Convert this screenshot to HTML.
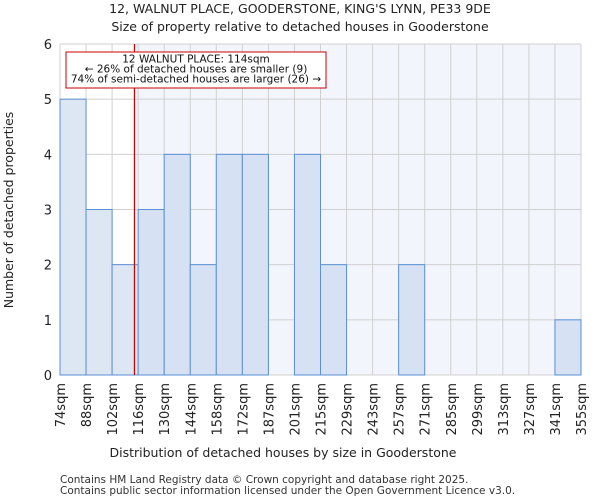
<!DOCTYPE html>
<html><head><meta charset="utf-8"><style>
body{margin:0;background:#fff;font-family:"DejaVu Sans","Liberation Sans",sans-serif}
svg text{font-family:"DejaVu Sans","Liberation Sans",sans-serif}
</style></head><body>
<svg id="c" width="600" height="500" xmlns="http://www.w3.org/2000/svg">
<text x="300" y="13" text-anchor="middle" font-size="12.5" fill="#222">12, WALNUT PLACE, GOODERSTONE, KING'S LYNN, PE33 9DE</text>
<text x="300" y="31" text-anchor="middle" font-size="12.5" fill="#222">Size of property relative to detached houses in Gooderstone</text>
<g id="plot"></g>
<text x="283" y="457" text-anchor="middle" font-size="12.5" fill="#222">Distribution of detached houses by size in Gooderstone</text>
<text transform="translate(13,210) rotate(-90)" text-anchor="middle" font-size="12.5" fill="#222">Number of detached properties</text>
<text x="60" y="483" font-size="10.5" fill="#333">Contains HM Land Registry data © Crown copyright and database right 2025.</text>
<text x="60" y="494" font-size="10.5" fill="#333">Contains public sector information licensed under the Open Government Licence v3.0.</text>
</svg>
<script>
const binLabels=["74sqm","88sqm","102sqm","116sqm","130sqm","144sqm","158sqm","172sqm","187sqm","201sqm","215sqm","229sqm","243sqm","257sqm","271sqm","285sqm","299sqm","313sqm","327sqm","341sqm","355sqm"];
const binStarts=[74,88,102,116,130,144,158,172,187,201,215,229,243,257,271,285,299,313,327,341,355];
const counts=[5,3,2,3,4,2,4,4,0,4,2,0,0,2,0,0,0,0,0,1];
const yTicks=[0,1,2,3,4,5,6];
const propertySize=114;
const NS="http://www.w3.org/2000/svg";
const X0=60,X1=581,Y0=375,Y1=44,YMAX=6;
const bw=(X1-X0)/counts.length;
function xIdx(i){return X0+i*bw;}
function xVal(v){for(let i=0;i<binStarts.length-1;i++){if(v>=binStarts[i]&&v<=binStarts[i+1])return xIdx(i)+(v-binStarts[i])/(binStarts[i+1]-binStarts[i])*bw;}return X1;}
function y(v){return Y0-v*(Y0-Y1)/YMAX;}
const g=document.getElementById('plot');
function mk(t,a){const e=document.createElementNS(NS,t);for(const k in a)e.setAttribute(k,a[k]);g.appendChild(e);return e;}
const lx=xVal(propertySize);
let e=mk('rect',{x:lx,y:Y1,width:X1-lx,height:Y0-Y1,fill:'#f2f5fc'});


for(let i=0;i<=counts.length;i++){e=mk('line',{x1:xIdx(i),x2:xIdx(i),y1:Y1,y2:Y0,stroke:'#d0d0d0','stroke-width':1});

}
yTicks.forEach(t=>{e=mk('line',{x1:X0,x2:X1,y1:y(t),y2:y(t),stroke:'#d0d0d0','stroke-width':1});


e=mk('text',{x:X0-8,y:y(t)+5,'text-anchor':'end','font-size':13,fill:'#222'});e.textContent=t;

});
counts.forEach((c,i)=>{if(c<=0)return;e=mk('rect',{x:xIdx(i),y:y(c),width:bw,height:Y0-y(c),fill:xIdx(i)<lx?'#dde6f3':'#d6e1f3',stroke:'#5b8fd6','stroke-width':1});

});
binLabels.forEach((l,i)=>{e=mk('text',{transform:`translate(${xIdx(i)+5},${Y0+8}) rotate(-90)`,'text-anchor':'end','font-size':13,fill:'#222'});e.textContent=l;

});
e=mk('line',{x1:lx,x2:lx,y1:Y1,y2:Y0,stroke:'#cc0000','stroke-width':1.2});


e=mk('rect',{x:66,y:52,width:260,height:36,fill:'#fff',stroke:'#cc0000','stroke-width':1});


["12 WALNUT PLACE: 114sqm","← 26% of detached houses are smaller (9)","74% of semi-detached houses are larger (26) →"].forEach((s,i)=>{e=mk('text',{x:196,y:62.5+i*10,'text-anchor':'middle','font-size':10.5,fill:'#111'});e.textContent=s;

});
</script>
</body></html>
